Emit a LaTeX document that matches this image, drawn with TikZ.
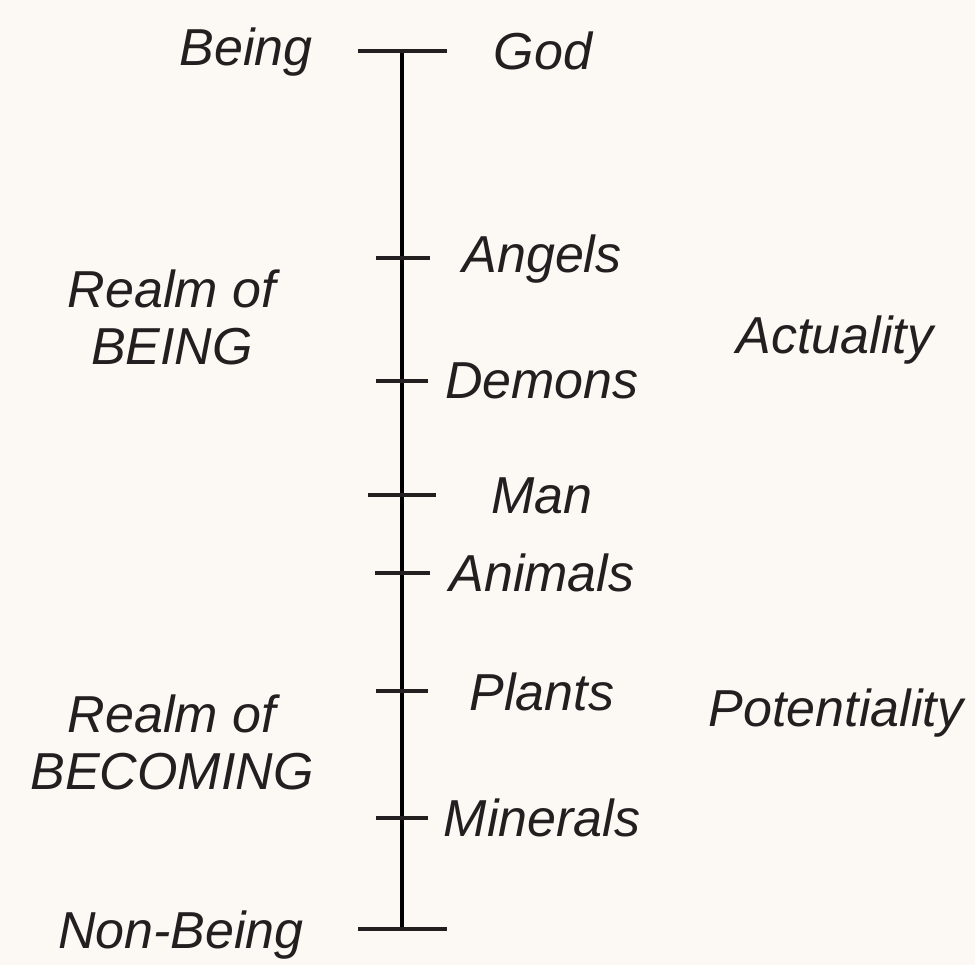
\documentclass[tikz,border=0pt]{standalone}
\usepackage{fontspec}
\setmainfont{Liberation Sans}
\usepackage{tikz}
\usetikzlibrary{positioning}
\definecolor{paper}{HTML}{FCF9F4}
\definecolor{inkdark}{HTML}{231F20}
\tikzset{
	lbl/.style={anchor=base, text=inkdark, inner sep=0pt, align=center,
		font=\fontsize{52}{57}\selectfont\itshape},
	axis/.style={draw=black, line width=4pt},
	tick/.style={draw=inkdark, line width=3.6pt}
}

\begin{document}
\begin{tikzpicture}[x=1pt, y=-1pt]
				\fill[paper] (0,0) rectangle (975,965);
				\useasboundingbox (0,0) rectangle (975,965);
				% spine
				\coordinate (top) at (402,51);
				\coordinate (bottom) at (402,929);
				\draw[axis] (top) -- (bottom);
				\draw[tick] ([xshift=-44pt]top) -- ([xshift=45pt]top);
				\draw[tick] ([xshift=-44pt]bottom) -- ([xshift=45pt]bottom);
				% rungs
				\foreach \name/\y/\l/\r in {angels/258/26/28, demons/381/26/26, man/495/34/34,
					animals/573/27/28, plants/691/26/26, minerals/818/26/26}{
					\coordinate (\name) at (402,\y);
					\draw[tick] ([xshift=-\l pt]\name) -- ([xshift=\r pt]\name);
				}
				% labels
				\node[lbl] (being) at (246,66) {Being};
				\node[lbl] (god) at (543,70) {God};
				\node[lbl] (angelsl) at (542,273) {Angels};
				\node[lbl] (demonsl) at (542,399) {Demons};
				\node[lbl] (manl) at (542,514) {Man};
				\node[lbl] (animalsl) at (542,591) {Animals};
				\node[lbl] (plantsl) at (542,710) {Plants};
				\node[lbl] (mineralsl) at (542,836) {Minerals};
				\node[lbl] (nonbeing) at (181,948) {Non-Being};
				\node[lbl] (realmbeing) at (172,365) {Realm of\\BEING};
				\node[lbl] (realmbecoming) at (172,789) {Realm of\\BECOMING};
				\node[lbl] (actuality) at (835,354) {Actuality};
				\node[lbl] (potentiality) at (836,726) {Potentiality};
			\end{tikzpicture}
\end{document}
